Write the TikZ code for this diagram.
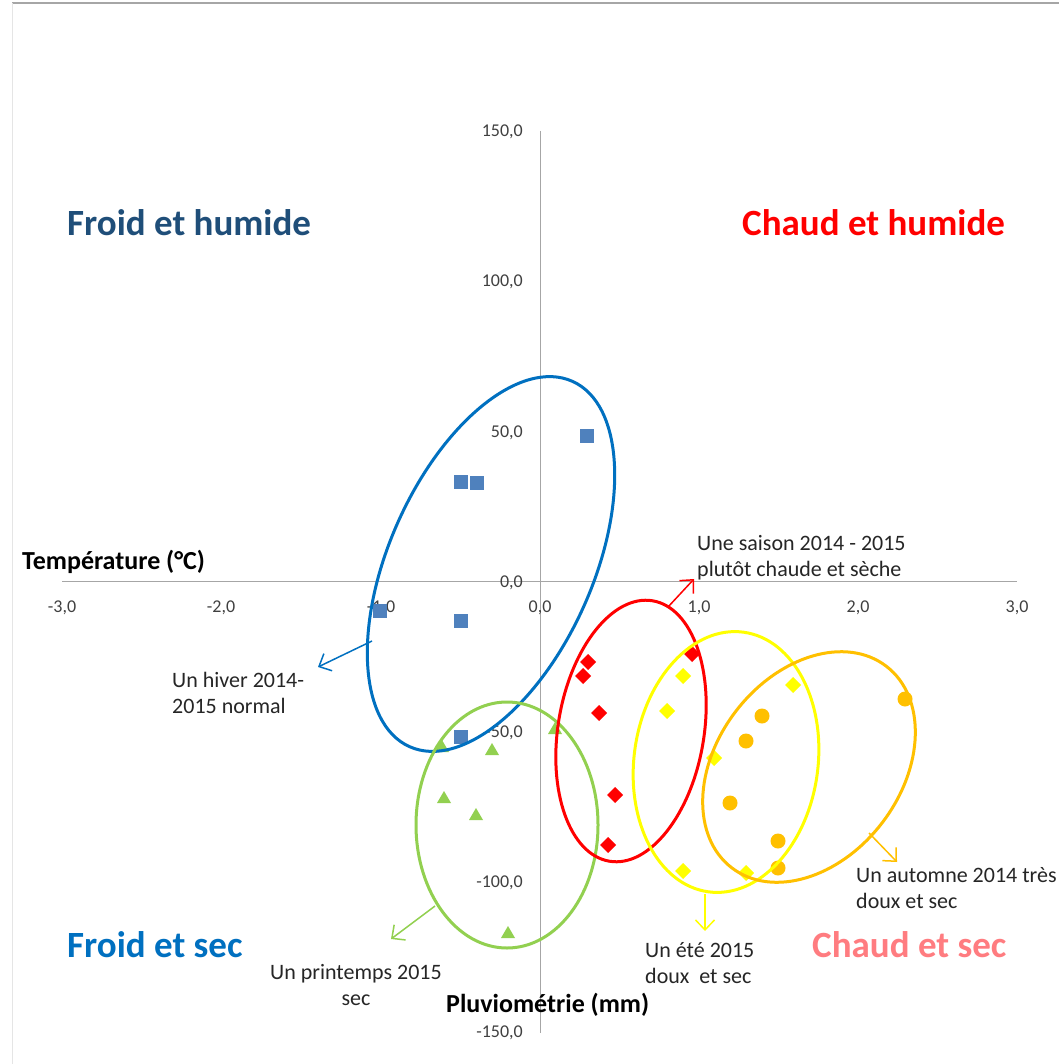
\documentclass[tikz,border=0pt]{standalone}
\usepackage{fontspec}
\setmainfont{Carlito}
\usetikzlibrary{arrows.meta}
\definecolor{axisgray}{HTML}{A6A6A6}
\definecolor{tickgray}{HTML}{404040}
\definecolor{notegray}{HTML}{262626}
\definecolor{navy}{HTML}{1F4E79}
\definecolor{midblue}{HTML}{0070C0}
\definecolor{salmon}{HTML}{FF7C80}
\definecolor{sqblue}{HTML}{4F81BD}
\definecolor{lgreen}{HTML}{92D050}
\definecolor{pureRed}{HTML}{FF0000}
\definecolor{pureYellow}{HTML}{FFFF00}
\definecolor{amber}{HTML}{FFC000}
\newcommand\mkSq[2]{\fill[sqblue] (#1,#2) ++(-7,-7) rectangle ++(14,14);}
\newcommand\mkTr[2]{\fill[lgreen] (#1,#2) ++(0,-7) -- ++(7,12) -- ++(-14,0) -- cycle;}
\newcommand\mkDm[3]{\fill[#3] (#1,#2) ++(0,-8) -- ++(8,8) -- ++(-8,8) -- ++(-8,-8) -- cycle;}
\newcommand\mkCi[2]{\fill[amber] (#1,#2) circle[radius=7.5];}
\begin{document}
\begin{tikzpicture}[x=1pt,y=-1pt,
  axisline/.style={draw=axisgray, line width=1pt},
  ticklbl/.style={font=\fontsize{18}{20}\selectfont, text=tickgray, inner sep=0},
  quadtitle/.style={font=\fontsize{37}{41}\selectfont\bfseries, inner sep=0, anchor=base west},
  axtitle/.style={font=\fontsize{26}{30}\selectfont\bfseries, inner sep=0, anchor=base west, text=black},
  note/.style={font=\fontsize{22}{26}\selectfont, text=notegray, inner sep=0, anchor=north west, align=left},
  ring/.style={line width=3pt},
  callout/.style={line width=1.5pt, -{Straight Barb[length=10pt,width=19pt]}}]
\useasboundingbox (0,0) rectangle (1059,1064);
\fill[white] (0,0) rectangle (1059,1064);
% frame
\coordinate (fTL) at (12,3); \coordinate (fTR) at (1059,3); \coordinate (fBL) at (12,1064);
\draw[axisgray, line width=1.2pt] (fTL) -- (fTR);
\draw[black!10, line width=1pt] (fTL) -- (fBL);
% axes
\coordinate (xL) at (62,581); \coordinate (xR) at (1017,581);
\coordinate (yT) at (540,131); \coordinate (yB) at (540,1033);
\draw[axisline] (xL) -- (xR);
\draw[axisline] (yT) -- (yB);
% x tick labels
\foreach \v/\lab [count=\i] in {62/-3{,}0, 221/-2{,}0, 381/-1{,}0, 540/0{,}0, 699/1{,}0, 858/2{,}0, 1017/3{,}0}
  \node[ticklbl, anchor=base] (xt\i) at (\v,612) {\lab};
% y tick labels
\foreach \v/\lab [count=\i] in {131/150{,}0, 281/100{,}0, 431/50{,}0, 581/0{,}0, 731/-50{,}0, 881/-100{,}0, 1031/-150{,}0}
  \node[ticklbl, anchor=base east] (yt\i) at (523,\v+6) {\lab};
% axis titles
\node[axtitle] (xtitle) at (22,569) {Température (°C)};
\node[axtitle] (ytitle) at (446,1012) {Pluviométrie (mm)};
% quadrant titles
\node[quadtitle, text=navy] (qFH) at (67,236) {Froid et humide};
\node[quadtitle, text=pureRed] (qCH) at (742,236) {Chaud et humide};
\node[quadtitle, text=midblue] (qFS) at (67,957) {Froid et sec};
\node[quadtitle, text=salmon] (qCS) at (812,957) {Chaud et sec};
% markers: winter (blue squares)
\mkSq{587}{436}\mkSq{461}{482}\mkSq{477}{483}\mkSq{380}{611}\mkSq{461}{621}\mkSq{461}{737}
% spring (green triangles)
\mkTr{442}{747}\mkTr{492}{750}\mkTr{444}{798}\mkTr{476}{815}\mkTr{555}{729}\mkTr{508}{933}
% season (red diamonds)
\mkDm{588}{662}{pureRed}\mkDm{583}{676}{pureRed}\mkDm{599}{713}{pureRed}\mkDm{615}{795}{pureRed}\mkDm{608}{845}{pureRed}\mkDm{692}{654}{pureRed}
% summer (yellow diamonds)
\mkDm{683}{676}{pureYellow}\mkDm{667}{711}{pureYellow}\mkDm{793}{685}{pureYellow}\mkDm{714}{758}{pureYellow}\mkDm{683}{871}{pureYellow}\mkDm{746}{873}{pureYellow}
% autumn (orange circles)
\mkCi{905}{699}\mkCi{762}{716}\mkCi{746}{741}\mkCi{730}{803}\mkCi{778}{841}\mkCi{778}{868}
% ellipses
\draw[ring, midblue, rotate around={66:(491,564)}] (491,564) ellipse [x radius=200, y radius=102];
\draw[ring, lgreen] (507,825) ellipse [x radius=91, y radius=123];
\draw[ring, pureRed, rotate around={80.6:(631,731)}] (631,731) ellipse [x radius=132, y radius=73];
\draw[ring, pureYellow, rotate around={82.3:(726,762)}] (726,762) ellipse [x radius=131, y radius=92];
\draw[ring, amber, rotate around={52.5:(809,767)}] (809,767) ellipse [x radius=127, y radius=92];
% callout arrows
\coordinate (bA) at (372,641); \coordinate (bB) at (318,667);
\coordinate (gA) at (435,906); \coordinate (gB) at (391,939);
\coordinate (rA) at (668,607); \coordinate (rB) at (694,579);
\coordinate (yA) at (705,894); \coordinate (yB2) at (705,931);
\coordinate (oA) at (869,833); \coordinate (oB) at (897,862);
\draw[callout, midblue] (bA) -- (bB);
\draw[callout, lgreen] (gA) -- (gB);
\draw[callout, pureRed] (rA) -- (rB);
\draw[callout, pureYellow] (yA) -- (yB2);
\draw[callout, amber] (oA) -- (oB);
% notes
\node[note] (nHiver) at (172,672) {Un hiver 2014-\\2015 normal};
\node[note] (nSaison) at (697,535) {Une saison 2014 - 2015\\plutôt chaude et sèche};
\node[note, anchor=north, align=center] (nPrint) at (356,964) {Un printemps 2015\\sec};
\node[note] (nEte) at (645,942) {Un été 2015\\doux~ et sec};
\node[note] (nAut) at (856,867) {Un automne 2014 très\\doux et sec};
\end{tikzpicture}
\end{document}
